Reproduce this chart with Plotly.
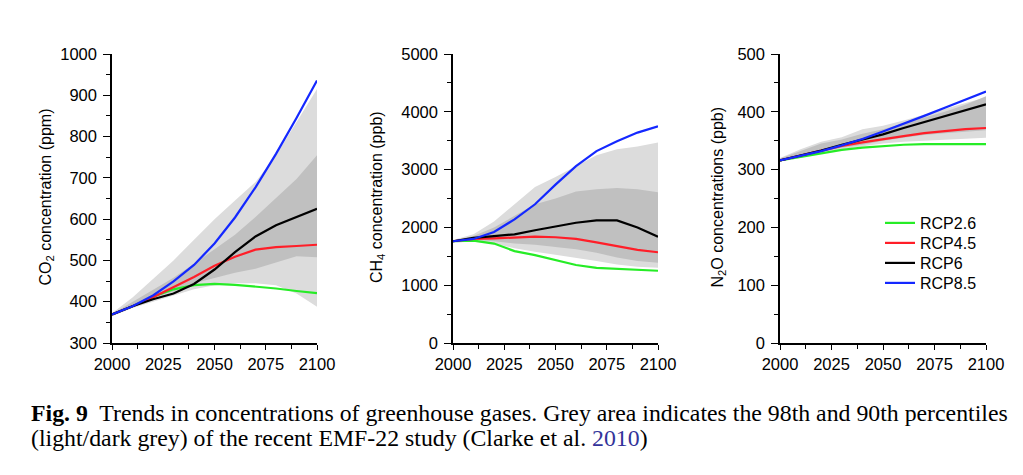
import plotly.graph_objects as go

W, H = 1023, 475
OFF = 8  # page body margin in the browser

years = [2000, 2010, 2020, 2030, 2040, 2050, 2060, 2070, 2080, 2090, 2100]
scenarios = ["RCP2.6", "RCP4.5", "RCP6", "RCP8.5"]
colors = {"RCP2.6": "#26ec26", "RCP4.5": "#ff1e28", "RCP6": "#000000", "RCP8.5": "#1428ff"}

# CO2 (ppm)
co2_rcp26 = [369, 389, 412, 430, 440, 443, 441, 437, 432, 426, 421]
co2_rcp45 = [369, 389, 411, 435, 460, 487, 509, 526, 532, 535, 538]
co2_rcp6 = [369, 389, 406, 420, 443, 478, 520, 558, 585, 605, 625]
co2_rcp85 = [369, 389, 415, 449, 489, 541, 604, 677, 758, 845, 936]
co2_light_lo = [365, 385, 400, 415, 430, 440, 445, 445, 440, 420, 388]
co2_light_hi = [372, 410, 455, 500, 550, 600, 645, 690, 755, 835, 915]
co2_dark_lo = [368, 390, 410, 425, 445, 458, 470, 480, 495, 510, 508]
co2_dark_hi = [370, 400, 428, 458, 492, 528, 562, 605, 650, 697, 755]

# CH4 (ppb)
ch4_rcp26 = [1760, 1770, 1720, 1590, 1520, 1440, 1350, 1300, 1280, 1260, 1250]
ch4_rcp45 = [1760, 1800, 1810, 1830, 1840, 1830, 1800, 1740, 1670, 1610, 1570]
ch4_rcp6 = [1760, 1820, 1850, 1880, 1950, 2020, 2080, 2120, 2120, 2000, 1840]
ch4_rcp85 = [1760, 1800, 1920, 2140, 2400, 2740, 3060, 3320, 3490, 3640, 3750]
ch4_light_lo = [1740, 1750, 1720, 1640, 1580, 1530, 1480, 1420, 1360, 1320, 1300]
ch4_light_hi = [1780, 1880, 2100, 2400, 2700, 2870, 3060, 3250, 3350, 3400, 3470]
ch4_dark_lo = [1750, 1780, 1760, 1720, 1700, 1660, 1620, 1560, 1480, 1420, 1390]
ch4_dark_hi = [1770, 1850, 2000, 2200, 2400, 2500, 2620, 2660, 2680, 2660, 2610]

# N2O (ppb)
n2o_rcp26 = [316, 322, 329, 334, 338, 341, 343, 344, 344, 344, 344]
n2o_rcp45 = [316, 324, 332, 341, 347, 353, 358, 363, 367, 370, 372]
n2o_rcp6 = [316, 324, 333, 343, 352, 361, 372, 382, 393, 403, 413]
n2o_rcp85 = [316, 324, 332, 342, 353, 366, 379, 393, 407, 421, 435]
n2o_light_lo = [314, 322, 330, 335, 340, 345, 348, 350, 352, 353, 355]
n2o_light_hi = [320, 335, 348, 356, 370, 376, 385, 395, 405, 415, 425]
n2o_dark_lo = [315, 323, 331, 338, 343, 350, 355, 360, 363, 366, 368]
n2o_dark_hi = [319, 332, 345, 352, 362, 370, 380, 390, 400, 412, 427]

caption_line1 = "<b>Fig. 9</b>  Trends in concentrations of greenhouse gases. Grey area indicates the 98th and 90th percentiles"
caption_line2 = "(light/dark grey) of the recent EMF-22 study (Clarke et al. <span style='color:#33339a'>2010</span>)"


def px(xp):
    return (xp - OFF) / W


def py(yp):
    return 1 - (yp - OFF) / H


panels = [
    dict(lines=[co2_rcp26, co2_rcp45, co2_rcp6, co2_rcp85],
         light=(co2_light_lo, co2_light_hi), dark=(co2_dark_lo, co2_dark_hi),
         yrange=[300, 1000], dtick=100,
         title="CO<sub>2</sub> concentration (ppm)", xpx=(112, 317), tx=34),
    dict(lines=[ch4_rcp26, ch4_rcp45, ch4_rcp6, ch4_rcp85],
         light=(ch4_light_lo, ch4_light_hi), dark=(ch4_dark_lo, ch4_dark_hi),
         yrange=[0, 5000], dtick=1000,
         title="CH<sub>4</sub> concentration (ppb)", xpx=(453, 658), tx=377),
    dict(lines=[n2o_rcp26, n2o_rcp45, n2o_rcp6, n2o_rcp85],
         light=(n2o_light_lo, n2o_light_hi), dark=(n2o_dark_lo, n2o_dark_hi),
         yrange=[0, 500], dtick=100,
         title="N<sub>2</sub>O concentrations (ppb)", xpx=(780, 986), tx=729),
]

LIGHT = "#dcdcdc"
DARK = "#c0c0c0"
FONT = "Liberation Sans, Arial, Helvetica, sans-serif"
SERIF = "Liberation Serif, Times New Roman, serif"

fig = go.Figure()
ytop, ybot = 54, 343
ydom = [py(ybot), py(ytop)]
legend_names = ["legend", "legend2", "legend3", "legend4"]
legend_rows = [223, 243, 263, 283]

for i, p in enumerate(panels):
    n = "" if i == 0 else str(i + 1)
    xa, ya = "x" + n, "y" + n
    for (lo, hi), col in [(p["light"], LIGHT), (p["dark"], DARK)]:
        fig.add_trace(go.Scatter(x=years, y=lo, mode="lines", line=dict(width=0, color=col),
                                 showlegend=False, hoverinfo="skip", xaxis=xa, yaxis=ya))
        fig.add_trace(go.Scatter(x=years, y=hi, mode="lines", line=dict(width=0, color=col),
                                 fill="tonexty", fillcolor=col, showlegend=False,
                                 hoverinfo="skip", xaxis=xa, yaxis=ya))
    for k, (s, vals) in enumerate(zip(scenarios, p["lines"])):
        fig.add_trace(go.Scatter(x=years, y=vals, mode="lines", name=s,
                                 line=dict(color=colors[s], width=2.2),
                                 legend=legend_names[k],
                                 showlegend=(i == 0), xaxis=xa, yaxis=ya))
    axcommon = dict(showline=True, linecolor="black", linewidth=1.5, ticks="outside",
                    tickwidth=1.3, tickcolor="black", showgrid=False,
                    zeroline=False, automargin=False,
                    tickfont=dict(family=FONT, size=16.5, color="black"))
    fig.layout["xaxis" + n] = dict(domain=[px(p["xpx"][0]), px(p["xpx"][1])],
                                   range=[2000, 2100], tick0=2000, dtick=25,
                                   anchor=ya, ticklen=5,
                                   minor=dict(dtick=12.5, ticklen=4, tickwidth=1.3,
                                              tickcolor="black", ticks="outside"),
                                   **axcommon)
    fig.layout["yaxis" + n] = dict(domain=ydom, range=p["yrange"], dtick=p["dtick"],
                                   anchor=xa, ticklen=7, ticklabelstandoff=3,
                                   minor=dict(dtick=p["dtick"] / 2, ticklen=4, tickwidth=1.3,
                                              tickcolor="black", ticks="outside"),
                                   **axcommon)
    fig.add_annotation(text=p["title"], xref="paper", yref="paper",
                       x=px(p["tx"]), y=py(197), textangle=-90, showarrow=False,
                       font=dict(family=FONT, size=16, color="black"))

fig.add_annotation(text=caption_line1, xref="paper", yref="paper", x=px(29), y=py(413),
                   xanchor="left", yanchor="middle", showarrow=False,
                   font=dict(family=SERIF, size=23.8, color="black"))
fig.add_annotation(text=caption_line2, xref="paper", yref="paper", x=px(29), y=py(438),
                   xanchor="left", yanchor="middle", showarrow=False,
                   font=dict(family=SERIF, size=23.8, color="black"))

legend_layout = {}
for name, row in zip(legend_names, legend_rows):
    legend_layout[name] = dict(x=px(880), y=py(row), xanchor="left", yanchor="middle",
                               bgcolor="rgba(0,0,0,0)",
                               font=dict(family=FONT, size=16, color="black"))

fig.update_layout(
    width=W, height=H, margin=dict(l=0, r=0, t=0, b=0, autoexpand=False),
    paper_bgcolor="white", plot_bgcolor="white",
    **legend_layout,
)

fig.write_html("out.html")
